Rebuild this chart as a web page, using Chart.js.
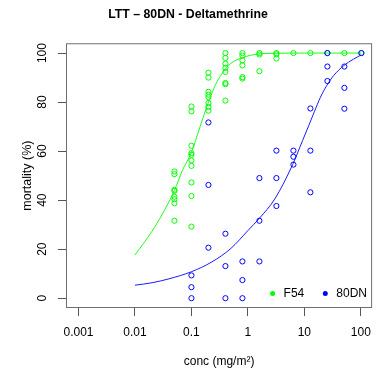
<!DOCTYPE html>
<html>
<head>
<meta charset="utf-8">
<script src="https://cdn.jsdelivr.net/npm/chart.js@4/dist/chart.umd.min.js"></script>
<style>
  html, body { margin: 0; padding: 0; background: #fff; }
</style>
</head>
<body>
<canvas id="doseChart" width="380" height="372"></canvas>
<script>
// tested concentrations (mg/m²), doubling series
const doses = [0.05, 0.1, 0.2, 0.4, 0.8, 1.6, 3.2, 6.4, 12.8, 25.6, 51.2, 102.4];

// mortality (%) of each replicate, one list per concentration
const f54Mortality = [
  [51.7, 50.6, 44.2, 43.8, 41.4, 40.4, 38.7, 31.6],
  [78.2, 76.2, 62.2, 59.2, 58.5, 56.2, 54.0, 47.2, 41.7, 29.2],
  [92.0, 90.0, 84.2, 83.0, 82.0, 79.6, 78.0, 76.5],
  [100, 98.0, 95.7, 94.0, 92.3, 87.8, 87.3, 80.6],
  [100, 99.0, 97.0, 95.0, 90.2, 89.6],
  [100, 99.4, 92.6],
  [100, 99.5, 97.8],
  [100],
  [100],
  [100],
  [100],
  [100]
];
const dnMortality = [
  [],
  [9.3, 4.5, 0],
  [71.7, 46.2, 20.6],
  [26.3, 13.1, 0],
  [15.0, 7.4, 0],
  [49.0, 31.6, 15.0],
  [60.2, 49.0, 37.6],
  [60.2, 57.7, 54.5],
  [77.4, 60.2, 43.2],
  [100, 94.5, 88.6],
  [94.5, 85.8, 77.3],
  [100]
];

// fitted dose-response curves
const f54CurveConc = [0.01, 0.02, 0.03, 0.05, 0.07, 0.1, 0.14, 0.2, 0.27, 0.37, 0.5, 0.8, 1.5, 3, 10, 102.4];
const f54CurveFit  = [17.6, 27.3, 34.0, 44.0, 52.4, 59.5, 69.5, 80.0, 87.3, 92.5, 95.8, 98.1, 99.6, 99.9, 100, 100];
const dnCurveConc = [0.01, 0.02, 0.04, 0.1, 0.23, 0.5, 1, 1.6, 3, 6.2, 9.3, 12, 15, 19.3, 25, 33, 49.5, 74, 102.4];
const dnCurveFit  = [5.3, 6.3, 7.9, 10.8, 14.8, 20.3, 27.6, 32.6, 40.5, 54.5, 64.3, 70.5, 76.0, 82.0, 86.8, 90.8, 94.8, 97.5, 99.3];

const xTicks = [0.001, 0.01, 0.1, 1, 10, 100];
const yTicks = [0, 20, 40, 60, 80, 100];

const GREEN = "#00ff00";
const BLUE = "#0000ff";
const FONT = "'Liberation Sans', Arial, sans-serif";

const toPoints = (lists) =>
  lists.flatMap((vals, i) => vals.map((v) => ({ x: doses[i], y: v })));
const toCurve = (xs, ys) => xs.map((x, i) => ({ x: x, y: ys[i] }));

// R-style frame around the plot region
const frameBox = {
  id: "frameBox",
  afterDraw(chart) {
    const { ctx, chartArea: a } = chart;
    ctx.save();
    ctx.strokeStyle = "#6e6e6e";
    ctx.lineWidth = 1;
    ctx.strokeRect(a.left + 0.5, a.top + 0.5, a.right - a.left - 1, a.bottom - a.top - 1);
    ctx.restore();
  },
};

// horizontal key in the lower right corner, filled dots
const cornerKey = {
  id: "cornerKey",
  afterDraw(chart) {
    const { ctx, chartArea: a } = chart;
    const items = chart.data.datasets
      .filter((d) => d.keyRank)
      .sort((p, q) => p.keyRank - q.keyRank);
    ctx.save();
    ctx.font = "12px " + FONT;
    ctx.textBaseline = "middle";
    let x = a.right - 99.5;
    const y = a.bottom - 14.5;
    items.forEach((d) => {
      ctx.fillStyle = d.borderColor;
      ctx.beginPath();
      ctx.arc(x, y, 2.5, 0, Math.PI * 2);
      ctx.fill();
      ctx.fillStyle = "#000";
      ctx.fillText(d.label, x + 11, y);
      x += 52.7;
    });
    ctx.restore();
  },
};

new Chart(document.getElementById("doseChart"), {
  type: "scatter",
  data: {
    datasets: [
      {
        label: "80DN",
        keyRank: 2,
        data: toPoints(dnMortality),
        borderColor: BLUE,
        backgroundColor: "rgba(0,0,0,0)",
        borderWidth: 1,
        pointRadius: 2.6,
        order: 1,
      },
      {
        label: "F54",
        keyRank: 1,
        data: toPoints(f54Mortality),
        borderColor: GREEN,
        backgroundColor: "rgba(0,0,0,0)",
        borderWidth: 1,
        pointRadius: 2.6,
        order: 2,
      },
      {
        label: "80DN fit",
        data: toCurve(dnCurveConc, dnCurveFit),
        showLine: true,
        borderColor: BLUE,
        borderWidth: 0.9,
        pointRadius: 0,
        cubicInterpolationMode: "monotone",
        order: 3,
      },
      {
        label: "F54 fit",
        data: toCurve(f54CurveConc, f54CurveFit),
        showLine: true,
        borderColor: GREEN,
        borderWidth: 0.9,
        pointRadius: 0,
        cubicInterpolationMode: "monotone",
        order: 4,
      },
    ],
  },
  options: {
    responsive: false,
    animation: false,
    events: [],
    layout: { padding: { top: 0, right: 4, bottom: 0, left: 0 } },
    scales: {
      x: {
        type: "logarithmic",
        min: Math.pow(10, -3.2),
        max: Math.pow(10, 2.2),
        afterBuildTicks: (s) => { s.ticks = xTicks.map((v) => ({ value: v })); },
        afterFit: (s) => { s.height = 64; },
        ticks: {
          callback: (v) => String(v),
          autoSkip: false,
          maxRotation: 0,
          padding: 9,
          color: "#000",
          font: { family: FONT, size: 12 },
        },
        grid: { drawOnChartArea: false, tickLength: 8, color: "#555" },
        border: { display: false },
        title: {
          display: true,
          text: "conc (mg/m²)",
          color: "#000",
          font: { family: FONT, size: 12 },
          padding: { top: 0, bottom: 3 },
        },
      },
      y: {
        min: -4,
        max: 104,
        afterBuildTicks: (s) => { s.ticks = yTicks.map((v) => ({ value: v })); },
        afterFit: (s) => { s.width = 66; },
        ticks: {
          minRotation: 90,
          maxRotation: 90,
          crossAlign: "center",
          padding: 5,
          color: "#000",
          font: { family: FONT, size: 12 },
        },
        grid: { drawOnChartArea: false, tickLength: 8, color: "#555" },
        border: { display: false },
        title: {
          display: true,
          text: "mortality (%)",
          color: "#000",
          font: { family: FONT, size: 12.5 },
          padding: { top: 20, bottom: 0 },
        },
      },
    },
    plugins: {
      legend: { display: false },
      tooltip: { enabled: false },
      title: {
        display: true,
        text: "LTT – 80DN - Deltamethrine",
        color: "#000",
        font: { family: FONT, size: 12.3, weight: "bold" },
        padding: { top: 7.5, bottom: 21 },
      },
    },
  },
  plugins: [frameBox, cornerKey],
});
</script>
</body>
</html>
